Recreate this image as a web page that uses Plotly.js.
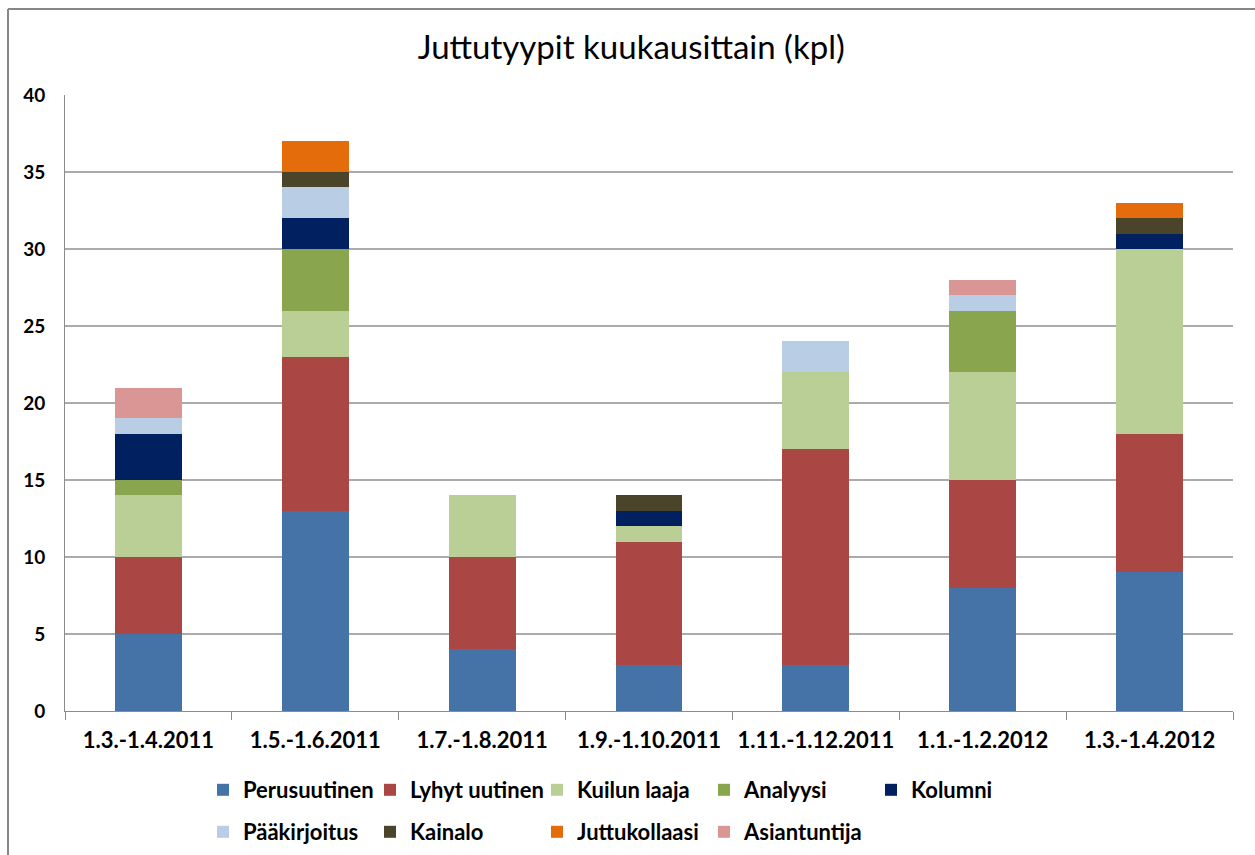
<!DOCTYPE html>
<html>
<head>
<meta charset="utf-8">
<script src="https://cdn.plot.ly/plotly-3.0.1.min.js"></script>
<style>html,body{margin:0;padding:0;background:#fff;}#chart{width:1255px;height:855px;}</style>
</head>
<body>
<div id="chart"></div>
<script>
const categories = ["1.3.-1.4.2011","1.5.-1.6.2011","1.7.-1.8.2011","1.9.-1.10.2011","1.11.-1.12.2011","1.1.-1.2.2012","1.3.-1.4.2012"];
const perusuutinen  = [5, 13, 4, 3, 3, 8, 9];
const lyhytUutinen  = [5, 10, 6, 8, 14, 7, 9];
const kuilunLaaja   = [4, 3, 4, 1, 5, 7, 12];
const analyysi      = [1, 4, 0, 0, 0, 4, 0];
const kolumni       = [3, 2, 0, 1, 0, 0, 1];
const paakirjoitus  = [1, 2, 0, 0, 2, 1, 0];
const kainalo       = [0, 1, 0, 1, 0, 0, 1];
const juttukollaasi = [0, 2, 0, 0, 0, 0, 1];
const asiantuntija  = [2, 0, 0, 0, 0, 1, 0];
const yTicks = [0, 5, 10, 15, 20, 25, 30, 35, 40];

const seriesNames = ["Perusuutinen","Lyhyt uutinen","Kuilun laaja","Analyysi","Kolumni","Pääkirjoitus","Kainalo","Juttukollaasi","Asiantuntija"];
const seriesData = [perusuutinen, lyhytUutinen, kuilunLaaja, analyysi, kolumni, paakirjoitus, kainalo, juttukollaasi, asiantuntija];
const colors = ["#4572A7","#AA4643","#B9CF96","#89A54E","#002060","#B9CDE5","#4A452A","#E46C0A","#D99694"];

const font = "Lato, 'Open Sans', sans-serif";

const traces = seriesData.map((vals, i) => ({
  type: "bar",
  name: seriesNames[i],
  x: categories,
  y: vals,
  marker: {color: colors[i], line: {width: 0}},
  legend: i < 5 ? "legend" : "legend2",
  hoverinfo: "name+y"
}));

const legendBase = {
  orientation: "h",
  xanchor: "left",
  yanchor: "middle",
  xref: "paper",
  yref: "paper",
  entrywidth: 122,
  entrywidthmode: "pixels",
  traceorder: "normal",
  font: {family: font, size: 22, color: "#000", weight: "bold"},
  bgcolor: "rgba(0,0,0,0)",
  itemclick: false,
  itemdoubleclick: false
};

const layout = {
  width: 1255,
  height: 855,
  margin: {l: 65, r: 22, t: 95, b: 144, pad: 0, autoexpand: false},
  paper_bgcolor: "#fff",
  plot_bgcolor: "#fff",
  barmode: "stack",
  bargap: 0.6,
  showlegend: true,
  title: {
    text: "Juttutyypit kuukausittain (kpl)",
    font: {family: font, size: 33, color: "#000"},
    x: 0.503, xanchor: "center",
    y: 0.945, yanchor: "middle"
  },
  xaxis: {
    type: "category",
    tickson: "boundaries",
    ticks: "outside",
    ticklen: 8,
    tickwidth: 1,
    tickcolor: "#8c8c8c",
    showline: true,
    linecolor: "#8c8c8c",
    linewidth: 1,
    showgrid: false,
    ticklabelstandoff: 10,
    tickfont: {family: font, size: 22, color: "#000", weight: "bold"},
    automargin: false,
    fixedrange: true
  },
  yaxis: {
    range: [0, 40],
    tickvals: yTicks,
    ticktext: yTicks.map(String),
    showline: true,
    linecolor: "#8c8c8c",
    linewidth: 1,
    showgrid: true,
    gridcolor: "#ababab",
    gridwidth: 1.5,
    zeroline: false,
    ticks: "",
    ticklabelstandoff: 15,
    tickfont: {family: font, size: 19, color: "#000", weight: "bold"},
    automargin: false,
    fixedrange: true
  },
  legend: Object.assign({}, legendBase, {x: (203 - 65) / 1168, y: (711 - 790) / 616}),
  legend2: Object.assign({}, legendBase, {x: (203 - 65) / 1168, y: (711 - 832) / 616}),
  shapes: [
    {type: "line", xref: "paper", yref: "paper", x0: (8 - 65) / 1168, x1: (1260 - 65) / 1168, y0: (711 - 9) / 616, y1: (711 - 9) / 616, line: {color: "#878787", width: 2}},
    {type: "line", xref: "paper", yref: "paper", x0: (8 - 65) / 1168, x1: (8 - 65) / 1168, y0: (711 - 9) / 616, y1: (711 - 860) / 616, line: {color: "#878787", width: 2}}
  ]
};

Plotly.newPlot("chart", traces, layout, {displayModeBar: false, staticPlot: true});
</script>
</body>
</html>
